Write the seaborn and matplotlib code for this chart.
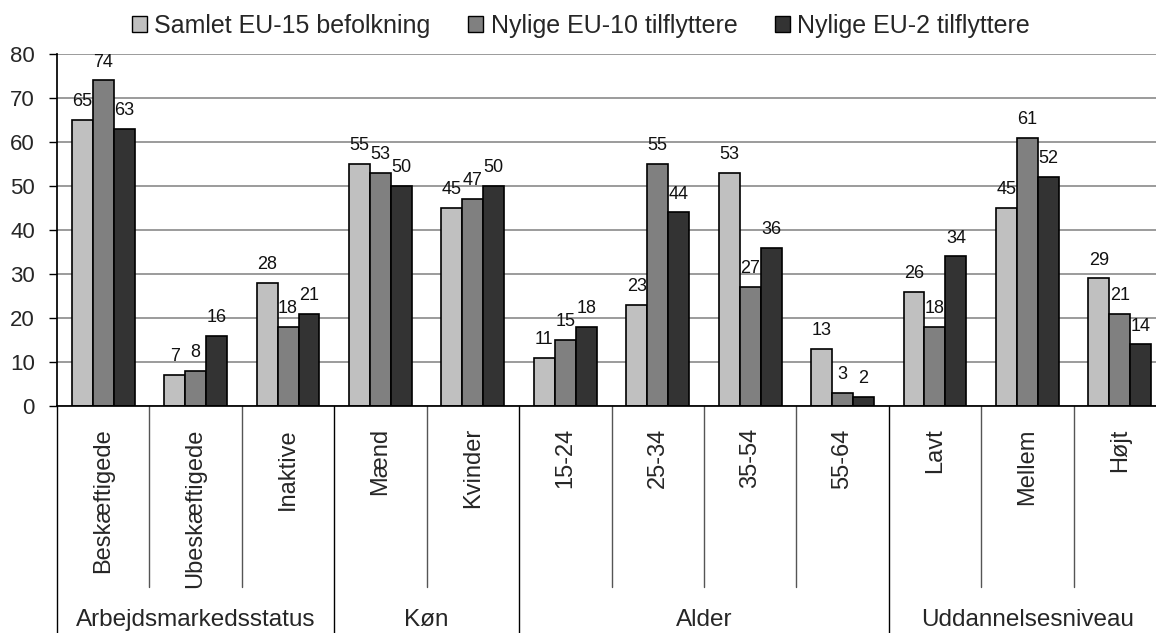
import matplotlib

matplotlib.use("Agg")

import matplotlib.pyplot as plt
import matplotlib.transforms as mtransforms
import pandas as pd
import seaborn as sns
from matplotlib.patches import Patch

categories = [
    "Beskæftigede", "Ubeskæftigede", "Inaktive",
    "Mænd", "Kvinder",
    "15-24", "25-34", "35-54", "55-64",
    "Lavt", "Mellem", "Højt",
]
group_names = ["Arbejdsmarkedsstatus", "Køn", "Alder", "Uddannelsesniveau"]
group_sizes = [3, 2, 4, 3]

series_names = ["Samlet EU-15 befolkning", "Nylige EU-10 tilflyttere", "Nylige EU-2 tilflyttere"]
eu15_values = [65, 7, 28, 55, 45, 11, 23, 53, 13, 26, 45, 29]
eu10_values = [74, 8, 18, 53, 47, 15, 55, 27, 3, 18, 61, 21]
eu2_values = [63, 16, 21, 50, 50, 18, 44, 36, 2, 34, 52, 14]

colors = ["#c0c0c0", "#808080", "#333333"]


def build_frame() -> pd.DataFrame:
    rows = []
    for name, values in zip(series_names, [eu15_values, eu10_values, eu2_values], strict=True):
        for category, value in zip(categories, values, strict=True):
            rows.append({"kategori": category, "serie": name, "andel": value})
    return pd.DataFrame(rows)


df = build_frame()

sns.set_theme(style="white")
plt.rcParams["font.family"] = ["Liberation Sans", "DejaVu Sans"]

fig = plt.figure(figsize=(11.56, 6.33), dpi=100)
fig_w, fig_h = 1156, 633
left_px, right_px, top_px, bottom_px = 57, 1166, 54, 406
ax = fig.add_axes([
    left_px / fig_w,
    1 - bottom_px / fig_h,
    (right_px - left_px) / fig_w,
    (bottom_px - top_px) / fig_h,
])

sns.barplot(
    data=df, x="kategori", y="andel", hue="serie",
    order=categories, hue_order=series_names, palette=colors,
    width=0.68, edgecolor="black", linewidth=1.2, saturation=1,
    legend=False, ax=ax,
)

for container in ax.containers:
    ax.bar_label(container, fmt="%d", padding=7, fontsize=13, color="#111111")

ax.set_xlim(-0.5, len(categories) - 0.5)
ax.set_ylim(0, 80)
ax.set_yticks(range(0, 81, 10))
ax.tick_params(axis="y", labelsize=16, length=6, width=1, color="black", direction="out", left=True, pad=10)
ax.tick_params(axis="x", labelsize=17, length=0, pad=16)
ax.set_xticks(range(len(categories)))
ax.set_xticklabels(categories, rotation=90)
ax.set_xlabel("")
ax.set_ylabel("")
ax.yaxis.grid(True, color="#808080", linewidth=1.1)
ax.set_axisbelow(True)
for side in ["top", "right"]:
    ax.spines[side].set_visible(False)
ax.spines["left"].set_color("black")
ax.spines["bottom"].set_color("black")

# category and group separators below the axis
trans = mtransforms.blended_transform_factory(ax.transData, ax.transAxes)
axes_h = bottom_px - top_px
cat_bottom = (bottom_px - 587) / axes_h
group_bottom = (bottom_px - fig_h) / axes_h
group_edges = [-0.5]
for size in group_sizes:
    group_edges.append(group_edges[-1] + size)
for k in range(len(categories) + 1):
    x = k - 0.5
    if x in group_edges:
        ax.plot([x, x], [0, group_bottom], transform=trans, color="black", lw=1, clip_on=False)
    else:
        ax.plot([x, x], [0, cat_bottom], transform=trans, color="#555555", lw=1, clip_on=False)

label_y = (bottom_px - 620) / axes_h
for name, start, end in zip(group_names, group_edges[:-1], group_edges[1:], strict=True):
    ax.text((start + end) / 2, label_y, name, transform=trans, ha="center", va="center", fontsize=17.5)

handles = [Patch(facecolor=c, edgecolor="black", linewidth=1) for c in colors]
fig.legend(
    handles, series_names, loc="center", bbox_to_anchor=(581 / fig_w, 1 - 26 / fig_h),
    ncol=3, frameon=False, fontsize=18, handlelength=0.6, handleheight=0.6,
    handletextpad=0.3, columnspacing=1.5,
)

fig.savefig("out.png", dpi=100)
